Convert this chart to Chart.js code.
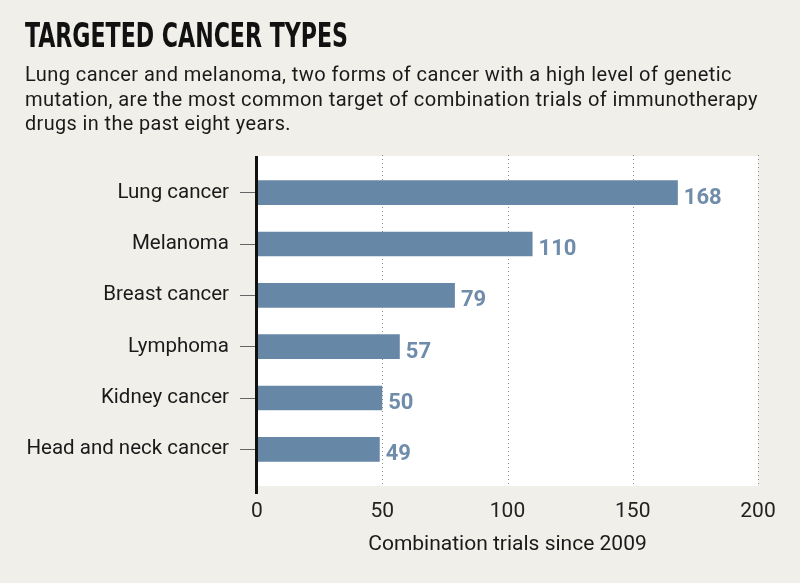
<!DOCTYPE html>
<html>
<head>
<meta charset="utf-8">
<script src="https://cdn.jsdelivr.net/npm/chart.js@4.4.1/dist/chart.umd.min.js"></script>
<style>
html,body{margin:0;padding:0;background:#f0efe9;}
#wrap{position:relative;width:800px;height:583px;overflow:hidden;background:#f0efe9;}
#title{position:absolute;left:25px;top:19px;font-family:"DejaVu Sans Condensed","DejaVu Sans",sans-serif;font-weight:bold;font-size:33px;line-height:1;color:#111;transform-origin:0 0;white-space:nowrap;}
#sub{position:absolute;left:25px;top:62px;font-family:Roboto,sans-serif;font-size:20px;letter-spacing:0.4px;line-height:24.5px;color:#1a1a1a;white-space:nowrap;}
#sub span{display:inline-block;transform-origin:0 0;}
canvas{position:absolute;left:0;top:0;}
</style>
</head>
<body>
<div id="wrap">
  <canvas id="c" width="800" height="583"></canvas>
  <div id="title">TARGETED CANCER TYPES</div>
  <div id="sub">
    <div><span data-w="707">Lung cancer and melanoma, two forms of cancer with a high level of genetic</span></div>
    <div><span data-w="733">mutation, are the most common target of combination trials of immunotherapy</span></div>
    <div><span data-w="266">drugs in the past eight years.</span></div>
  </div>
</div>
<script>
const categories = ["Lung cancer", "Melanoma", "Breast cancer", "Lymphoma", "Kidney cancer", "Head and neck cancer"];
const trials = [168, 110, 79, 57, 50, 49];
const xTickValues = [0, 50, 100, 150, 200];
const axisTitle = "Combination trials since 2009";

// fit text widths to reference
(function(){
  const t = document.getElementById('title');
  const w = t.getBoundingClientRect().width;
  t.style.transform = 'scaleX(' + (323 / w) + ')';
  document.querySelectorAll('#sub span').forEach(s => {
    const sw = s.getBoundingClientRect().width;
    s.style.transform = 'scaleX(' + (Number(s.dataset.w) / sw) + ')';
  });
})();

const BAR = '#6787a6';
const LABEL = '#6f8cab';
const EXT = 11;

const backdrop = {
  id: 'backdrop',
  beforeDatasetsDraw(chart) {
    const {ctx, chartArea: a, scales: {x}} = chart;
    const top = a.top - EXT, bottom = a.bottom + EXT;
    ctx.save();
    ctx.fillStyle = '#ffffff';
    ctx.fillRect(a.left, top, a.right - a.left, bottom - top);
    ctx.strokeStyle = '#8a8a8a';
    ctx.lineWidth = 1;
    ctx.setLineDash([1, 3]);
    xTickValues.forEach(v => {
      if (v === 0) return;
      const px = Math.round(x.getPixelForValue(v)) + 0.5;
      ctx.beginPath();
      ctx.moveTo(px, top - 1);
      ctx.lineTo(px, bottom);
      ctx.stroke();
    });
    ctx.restore();
  },
  afterDatasetsDraw(chart) {
    const {ctx, chartArea: a, scales: {x}} = chart;
    const top = a.top - EXT, bottom = a.bottom + EXT;
    ctx.save();
    const zx = x.getPixelForValue(0);
    ctx.fillStyle = '#111';
    ctx.fillRect(zx - 2, top, 3, bottom + 8 - top);
    ctx.font = 'bold 22px Roboto';
    ctx.fillStyle = LABEL;
    ctx.textAlign = 'left';
    ctx.textBaseline = 'alphabetic';
    const meta = chart.getDatasetMeta(0);
    meta.data.forEach((bar, i) => {
      ctx.fillText(String(trials[i]), bar.x + 6, bar.y + 11);
    });
    ctx.restore();
  }
};

new Chart(document.getElementById('c'), {
  type: 'bar',
  data: {
    labels: categories,
    datasets: [{
      data: trials,
      backgroundColor: BAR,
      borderWidth: 0,
      categoryPercentage: 1,
      barPercentage: 0.48
    }]
  },
  options: {
    indexAxis: 'y',
    responsive: false,
    animation: false,
    events: [],
    layout: {padding: {left: 0, right: 42, top: 167, bottom: 0}},
    plugins: {legend: {display: false}, tooltip: {enabled: false}},
    scales: {
      x: {
        type: 'linear',
        min: 0, max: 200,
        afterBuildTicks: s => { s.ticks = xTickValues.map(v => ({value: v})); },
        grid: {display: false, drawTicks: false},
        border: {display: false},
        ticks: {color: '#222', font: {family: 'Roboto', size: 21}, padding: 24, maxRotation: 0},
        title: {display: true, text: axisTitle, color: '#1a1a1a', font: {family: 'Roboto', size: 21}, padding: {top: 0, bottom: 26}},
        afterFit: s => { s.height = 108; }
      },
      y: {
        grid: {display: true, drawOnChartArea: false, offset: false, drawTicks: true, tickLength: 17, color: '#666', lineWidth: 1},
        border: {display: false},
        ticks: {color: '#1a1a1a', font: {family: 'Roboto', size: 20.5}, padding: 11},
        afterFit: s => { s.width = 257; }
      }
    }
  },
  plugins: [backdrop]
});
</script>
</body>
</html>
